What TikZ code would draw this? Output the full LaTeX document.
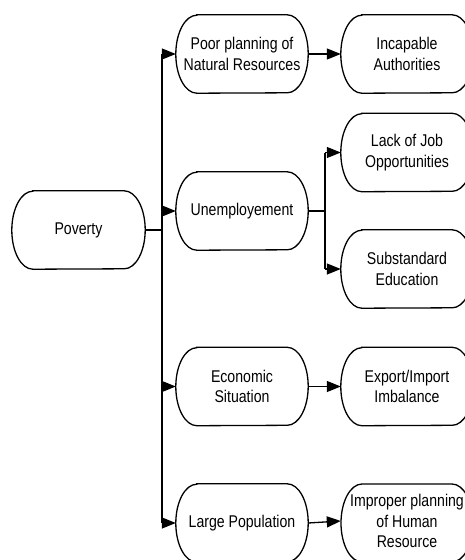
\documentclass[tikz,border=0pt]{standalone}
\usepackage{fontspec}
\setmainfont{Liberation Sans}[FakeStretch=0.83]
\usetikzlibrary{arrows.meta}
\begin{document}
\begin{tikzpicture}[x=1pt,y=-1pt,
  box/.style={rectangle, minimum width=132pt, minimum height=78pt, inner sep=0pt,
    align=center, font=\fontsize{17pt}{20.6pt}\selectfont},
  outline/.style={line width=1.3pt},
  link/.style={line width=1.3pt},
  arrowlink/.style={link, -{Triangle[length=14pt,width=11pt]}}]
\useasboundingbox (0,0) rectangle (465,560);

% root
\node[box, minimum width=133pt] (pov) at (78.5,230) {Poverty};

% causes
\node[box] (poor)  at (242,54)    {Poor planning of\\Natural Resources};
\node[box] (unemp) at (242,211)   {Unemployement};
\node[box] (econ)  at (242,386.5) {Economic\\Situation};
\node[box] (large) at (242,523)   {Large Population};

% effects
\node[box] (inc)  at (407,54)    {Incapable\\Authorities};
\node[box] (lack) at (407,152.5) {Lack of Job\\Opportunities};
\node[box] (sub)  at (407,269)   {Substandard\\Education};
\node[box] (exp)  at (407,386.5) {Export/Import\\Imbalance};
\node[box] (imp)  at (407,521)   {Improper planning\\of Human\\Resource};

% terminator outlines with elliptical ends
\foreach \n in {pov,poor,unemp,econ,large,inc,lack,sub,exp}
  \draw[outline] ([xshift=21pt]\n.north west) -- ([xshift=-21pt]\n.north east)
    arc[start angle=90,end angle=-90,x radius=21pt,y radius=39pt]
    -- ([xshift=21pt]\n.south west)
    arc[start angle=270,end angle=90,x radius=21pt,y radius=39pt] -- cycle;
\coordinate (impnw) at (341,484);
\coordinate (impne) at (473,484);
\coordinate (impsw) at (341,562);
\draw[outline] ([xshift=21pt]impnw) -- ([xshift=-21pt]impne)
    arc[start angle=90,end angle=-90,x radius=21pt,y radius=39pt]
    -- ([xshift=21pt]impsw)
    arc[start angle=270,end angle=90,x radius=21pt,y radius=39pt] -- cycle;

% trunk from the root
\coordinate (tr) at (162,230);
\coordinate (trtop) at (162,54);
\coordinate (trbot) at (162,523);
\draw[link] (pov.east) -- (tr);
\draw[link] (trtop) -- (trbot);
\draw[arrowlink] (trtop) -- (poor.west);
\draw[arrowlink] (trtop |- unemp.west) -- (unemp.west);
\draw[arrowlink] (trtop |- econ.west) -- (econ.west);
\draw[arrowlink] (trbot) -- (large.west);

% branch from unemployment
\coordinate (ub) at (325,211);
\draw[link] (unemp.east) -- (ub);
\draw[link] (ub |- lack.west) -- (ub |- sub.west);
\draw[arrowlink] (ub |- lack.west) -- (lack.west);
\draw[arrowlink] (ub |- sub.west) -- (sub.west);

% direct effects
\draw[arrowlink] (poor.east) -- (inc.west);
\draw[arrowlink] (econ.east) -- (exp.west);
\draw[arrowlink] (large.east) -- (imp.west);
\end{tikzpicture}
\end{document}
